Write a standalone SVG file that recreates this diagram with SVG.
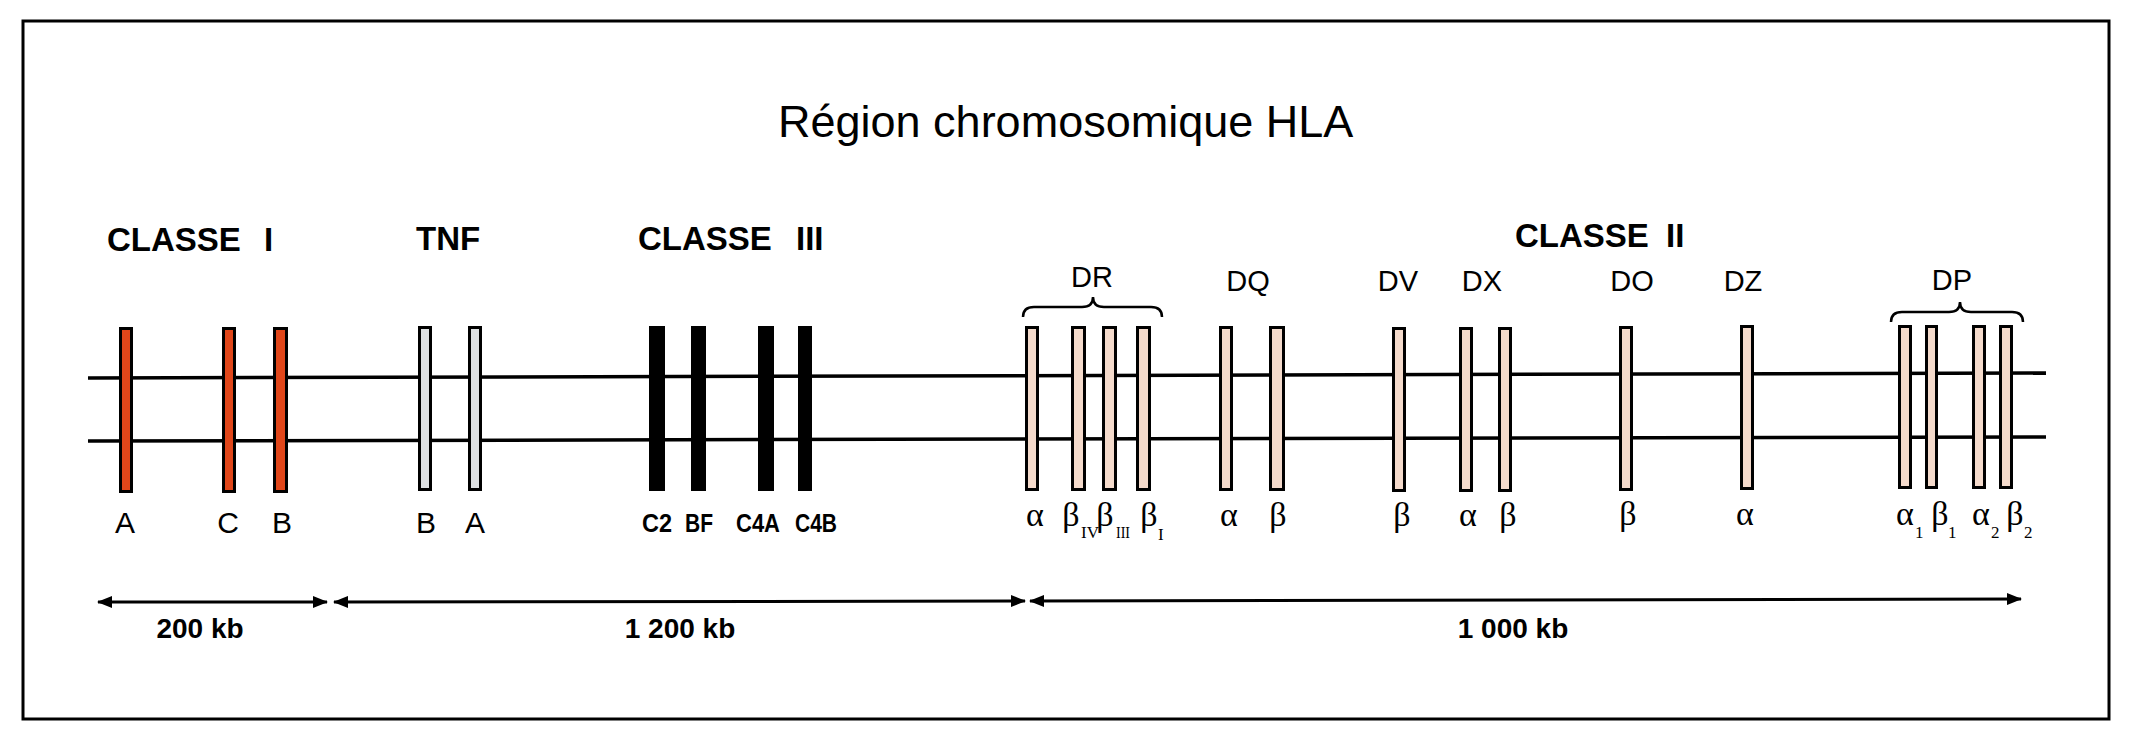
<svg xmlns="http://www.w3.org/2000/svg" width="2129" height="736" viewBox="0 0 2129 736">
<style>
.t{font-family:"Liberation Sans",Arial,sans-serif;fill:#000}
.title{font-size:45px}
.cls{font-size:33px;font-weight:bold}
.d{font-size:29px;text-anchor:middle}
.lab{font-size:30px;text-anchor:middle}
.c3{font-size:25px;font-weight:bold;text-anchor:middle}
.kb{font-size:28px;font-weight:bold;text-anchor:middle}
.g{font-family:"Liberation Serif","Times New Roman",serif;font-size:34px;fill:#000;text-anchor:middle}
.sub{font-family:"Liberation Serif","Times New Roman",serif;font-size:17px;fill:#000}
.red{fill:#E0461A;stroke:#000;stroke-width:3}
.grey{fill:#DDE0E2;stroke:#000;stroke-width:3}
.blk{fill:#000}
.pink{fill:#F4DACB;stroke:#000;stroke-width:3}
.line{stroke:#000;stroke-width:3.5;fill:none}
.arr{stroke:#000;stroke-width:3;fill:none;marker-start:url(#ah);marker-end:url(#ah)}
.brace{stroke:#000;stroke-width:2.5;fill:none}
</style>
<defs>
<marker id="ah" markerUnits="userSpaceOnUse" markerWidth="15" markerHeight="12" refX="14" refY="6" orient="auto-start-reverse">
<path d="M0,0 L15,6 L0,12 z" fill="#000"/>
</marker>
</defs>
<rect x="0" y="0" width="2129" height="736" fill="#fff"/>
<rect id="frame" x="23" y="21" width="2086" height="698" fill="none" stroke="#000" stroke-width="3"/>
<text id="title" class="t title" x="778" y="137">Région chromosomique HLA</text>

<g id="connectors">
<path class="line" d="M88,378 L2046,373"/>
<path class="line" d="M88,441 L2046,437"/>
<path id="arrow-200" class="arr" d="M98,602 L327,602"/>
<path id="arrow-1200" class="arr" d="M334,602 L1025,601"/>
<path id="arrow-1000" class="arr" d="M1030,601 L2021,599"/>
</g>

<g id="classe-I">
<text class="t cls" x="107" y="251">CLASSE</text>
<text class="t cls" x="264" y="251">I</text>
<rect class="red" x="120.5" y="328.5" width="11" height="163"/>
<rect class="red" x="223.5" y="328.5" width="11" height="163"/>
<rect class="red" x="274.5" y="328.5" width="12" height="163"/>
<text class="t lab" x="125" y="533">A</text>
<text class="t lab" x="228" y="533">C</text>
<text class="t lab" x="282" y="533">B</text>
</g>

<g id="tnf">
<text class="t cls" x="416" y="250">TNF</text>
<rect class="grey" x="419.5" y="327.5" width="11" height="162"/>
<rect class="grey" x="469.5" y="327.5" width="11" height="162"/>
<text class="t lab" x="426" y="533">B</text>
<text class="t lab" x="475" y="533">A</text>
</g>

<g id="classe-III">
<text class="t cls" x="638" y="250">CLASSE</text>
<text class="t cls" x="796" y="250">III</text>
<rect class="blk" x="649" y="326" width="16" height="165"/>
<rect class="blk" x="691" y="326" width="15" height="165"/>
<rect class="blk" x="758" y="326" width="16" height="165"/>
<rect class="blk" x="798" y="326" width="14" height="165"/>
<text class="t c3" x="657" y="532" textLength="30" lengthAdjust="spacingAndGlyphs">C2</text>
<text class="t c3" x="699" y="532" textLength="28" lengthAdjust="spacingAndGlyphs">BF</text>
<text class="t c3" x="758" y="532" textLength="44" lengthAdjust="spacingAndGlyphs">C4A</text>
<text class="t c3" x="816" y="532" textLength="42" lengthAdjust="spacingAndGlyphs">C4B</text>
</g>

<g id="classe-II">
<text class="t cls" x="1515" y="247">CLASSE</text>
<text class="t cls" x="1666" y="247">II</text>
</g>

<g id="DR">
<text class="t d" x="1092" y="287">DR</text>
<path class="brace" d="M1023,317 Q1023,307 1034,307 L1082,307 Q1093,307 1093,297 Q1093,307 1104,307 L1151,307 Q1162,307 1162,317"/>
<rect class="pink" x="1026.5" y="327.5" width="11" height="162"/>
<rect class="pink" x="1072.5" y="327.5" width="12" height="162"/>
<rect class="pink" x="1103.5" y="327.5" width="12" height="162"/>
<rect class="pink" x="1137.5" y="327.5" width="12" height="162"/>
<text class="g" x="1035" y="526">α</text>
<text class="g" x="1071" y="526">β</text><text class="sub" x="1081" y="538">IV</text>
<text class="g" x="1105" y="526">β</text><text class="sub" x="1116" y="538" textLength="14" lengthAdjust="spacingAndGlyphs">III</text>
<text class="g" x="1149" y="526">β</text><text class="sub" x="1158" y="540">I</text>
</g>

<g id="DQ">
<text class="t d" x="1248" y="291">DQ</text>
<rect class="pink" x="1220.5" y="327.5" width="11" height="162"/>
<rect class="pink" x="1270.5" y="327.5" width="13" height="162"/>
<text class="g" x="1229" y="526">α</text>
<text class="g" x="1278" y="526">β</text>
</g>

<g id="DV">
<text class="t d" x="1398" y="291">DV</text>
<rect class="pink" x="1393.5" y="328.5" width="11" height="162"/>
<text class="g" x="1402" y="526">β</text>
</g>

<g id="DX">
<text class="t d" x="1482" y="291">DX</text>
<rect class="pink" x="1460.5" y="328.5" width="11" height="162"/>
<rect class="pink" x="1499.5" y="328.5" width="11" height="162"/>
<text class="g" x="1468" y="526">α</text>
<text class="g" x="1508" y="526">β</text>
</g>

<g id="DO">
<text class="t d" x="1632" y="291">DO</text>
<rect class="pink" x="1620.5" y="327.5" width="11" height="162"/>
<text class="g" x="1628" y="525">β</text>
</g>

<g id="DZ">
<text class="t d" x="1743" y="291">DZ</text>
<rect class="pink" x="1741.5" y="326.5" width="11" height="162"/>
<text class="g" x="1745" y="525">α</text>
</g>

<g id="DP">
<text class="t d" x="1952" y="290">DP</text>
<path class="brace" d="M1891,322 Q1891,312 1902,312 L1949,312 Q1960,312 1960,302 Q1960,312 1971,312 L2012,312 Q2023,312 2023,322"/>
<rect class="pink" x="1899.5" y="326.5" width="11" height="161"/>
<rect class="pink" x="1926.5" y="326.5" width="10" height="161"/>
<rect class="pink" x="1973.5" y="326.5" width="11" height="161"/>
<rect class="pink" x="2000.5" y="326.5" width="11" height="161"/>
<text class="g" x="1905" y="525">α</text><text class="sub" x="1915" y="538">1</text>
<text class="g" x="1940" y="525">β</text><text class="sub" x="1948" y="538">1</text>
<text class="g" x="1981" y="525">α</text><text class="sub" x="1991" y="538">2</text>
<text class="g" x="2015" y="525">β</text><text class="sub" x="2024" y="538">2</text>
</g>

<g id="scale-labels">
<text class="t kb" x="200" y="638">200 kb</text>
<text class="t kb" x="680" y="638">1 200 kb</text>
<text class="t kb" x="1513" y="638">1 000 kb</text>
</g>
</svg>
